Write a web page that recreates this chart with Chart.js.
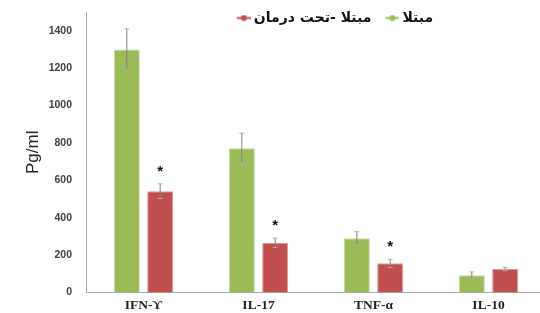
<!DOCTYPE html>
<html>
<head>
<meta charset="utf-8">
<script src="https://cdn.jsdelivr.net/npm/chart.js@4"></script>
<style>
  body { margin: 0; background: #fff; }
  #wrap { width: 540px; height: 313px; overflow: hidden; }
</style>
</head>
<body>
<div id="wrap"><canvas id="cytoChart" width="546" height="313"></canvas></div>
<script>
// categories and series
const cytokines = ['IFN-ϒ', 'IL-17', 'TNF-α', 'IL-10'];
const seriesNames = ['مبتلا', 'مبتلا -تحت درمان'];
const affected = [1300, 772, 290, 92];
const affectedErr = [110, 80, 35, 18];
const treated = [542, 266, 156, 126];
const treatedErr = [39, 25, 22, 9];
const treatedSig = [true, true, true, false];
const yTicks = [0, 200, 400, 600, 800, 1000, 1200, 1400];

const green = '#9BBB59';
const red = '#C0504D';

// little "line with dot" marker like the excel legend
// (drawn on the right part of a wider canvas so it sits close to the text)
function legendMarker(color) {
    const c = document.createElement('canvas');
    c.width = 22;
    c.height = 7;
    const g = c.getContext('2d');
    g.strokeStyle = color;
    g.lineWidth = 2;
    g.beginPath();
    g.moveTo(8, 3.5);
    g.lineTo(22, 3.5);
    g.stroke();
    g.fillStyle = color;
    g.beginPath();
    g.arc(15, 3.5, 3, 0, Math.PI * 2);
    g.fill();
    return c;
}

const errorBars = {
    id: 'errorBars',
    afterDatasetsDraw(chart) {
        const ctx = chart.ctx;
        const y = chart.scales.y;
        const errs = [affectedErr, treatedErr];
        chart.data.datasets.forEach((ds, i) => {
            const meta = chart.getDatasetMeta(i);
            meta.data.forEach((bar, j) => {
                const v = ds.data[j];
                const top = y.getPixelForValue(v + errs[i][j]);
                const bot = y.getPixelForValue(v - errs[i][j]);
                ctx.save();
                ctx.strokeStyle = '#808080';
                ctx.lineWidth = 1;
                ctx.beginPath();
                ctx.moveTo(bar.x, top);
                ctx.lineTo(bar.x, bot);
                ctx.stroke();
                ctx.strokeStyle = '#b0b0b0';
                ctx.beginPath();
                ctx.moveTo(bar.x - 2.5, top);
                ctx.lineTo(bar.x + 2.5, top);
                ctx.moveTo(bar.x - 2.5, bot);
                ctx.lineTo(bar.x + 2.5, bot);
                ctx.stroke();
                if (i === 1 && treatedSig[j]) {
                    ctx.fillStyle = '#111';
                    ctx.font = 'bold 15px "Liberation Sans"';
                    ctx.textAlign = 'center';
                    ctx.textBaseline = 'middle';
                    ctx.fillText('*', bar.x, top - 12);
                }
                ctx.restore();
            });
        });
    }
};

// legend floats over the top of the plot, like the original
const legendFloat = {
    id: 'legendFloat',
    afterInit(chart) {
        const lg = chart.legend;
        const fit = lg.fit;
        lg.fit = function () {
            fit.call(this);
            this.height = 0;
        };
    },
    afterLayout(chart) {
        const lg = chart.legend;
        lg.top = 1;
        lg.bottom = 34;
        lg.left += 60;
        lg.right += 60;
    }
};

new Chart(document.getElementById('cytoChart'), {
    type: 'bar',
    data: {
        labels: cytokines,
        datasets: [{
            label: seriesNames[0],
            data: affected,
            backgroundColor: green,
            borderColor: '#c6da9e',
            borderWidth: 1,
            barPercentage: 0.78,
            categoryPercentage: 0.58
        }, {
            label: seriesNames[1],
            data: treated,
            backgroundColor: red,
            borderColor: '#dc9a98',
            borderWidth: 1,
            barPercentage: 0.78,
            categoryPercentage: 0.58
        }]
    },
    options: {
        responsive: false,
        animation: false,
        layout: { padding: { top: 12, left: 0, right: 0, bottom: 0 } },
        plugins: {
            tooltip: { enabled: false },
            legend: {
                position: 'top',
                reverse: true,
                labels: {
                    usePointStyle: true,
                    pointStyleWidth: 14,
                    padding: 10,
                    color: '#111',
                    font: { family: '"DejaVu Sans"', size: 14, weight: 'bold' },
                    generateLabels(chart) {
                        return chart.data.datasets.map((ds, i) => ({
                            text: ds.label,
                            fillStyle: ds.backgroundColor,
                            strokeStyle: ds.backgroundColor,
                            pointStyle: legendMarker(ds.backgroundColor),
                            fontColor: '#111',
                            lineWidth: 0,
                            datasetIndex: i
                        }));
                    }
                }
            }
        },
        scales: {
            x: {
                grid: { display: false, drawTicks: false },
                border: { color: '#a6a6a6', width: 1 },
                ticks: {
                    color: '#222',
                    padding: 5,
                    font: { family: '"Liberation Serif"', size: 13.5, weight: 'bold' }
                },
                afterFit(s) { s.height = 20.5; }
            },
            y: {
                min: 0,
                max: 1500,
                grid: { display: false, drawTicks: false },
                border: { color: '#a6a6a6', width: 1 },
                afterBuildTicks(s) { s.ticks = yTicks.map(v => ({ value: v })); },
                ticks: {
                    color: '#404040',
                    padding: 14,
                    callback: v => String(v),
                    font: { family: '"Liberation Sans"', size: 10.5, weight: 'bold' }
                },
                title: {
                    display: true,
                    text: 'Pg/ml',
                    color: '#222',
                    padding: { top: 23, bottom: 0 },
                    font: { family: '"Liberation Sans"', size: 17 }
                },
                afterFit(s) {
                    s.width = 86;
                    s.paddingTop = 6;
                    s.paddingBottom = 6;
                }
            }
        }
    },
    plugins: [errorBars, legendFloat]
});
</script>
</body>
</html>
